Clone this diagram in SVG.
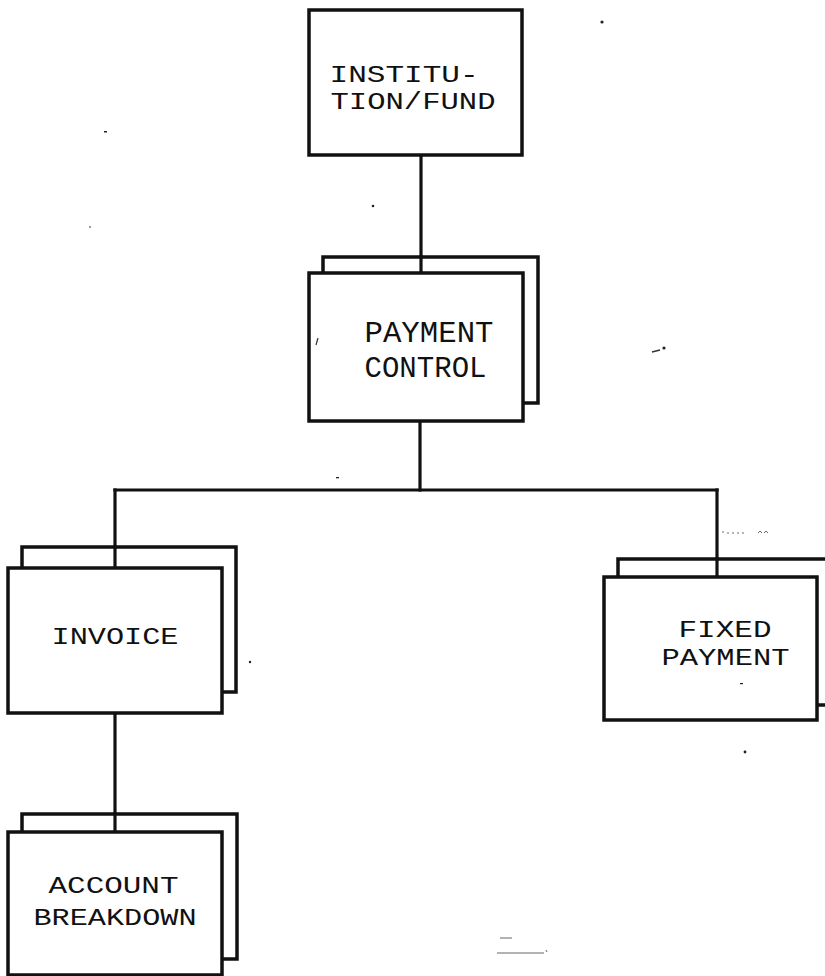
<svg xmlns="http://www.w3.org/2000/svg" width="825" height="976" viewBox="0 0 825 976">
  <style>
    .box { fill: #ffffff; stroke: #111111; stroke-width: 3.5; stroke-linejoin: miter; }
    .wire { fill: none; stroke: #111111; stroke-width: 3.2; stroke-linecap: square; }
    .lbl { font-family: "Courier New", "Liberation Mono", monospace; fill: #111111; }
    .speck { fill: #222222; }
  </style>
  <rect x="0" y="0" width="825" height="976" fill="#ffffff"/>

  <!-- connectors -->
  <g id="connectors">
    <path class="wire" d="M421 155 V273"/>
    <path class="wire" d="M420 421 V490"/>
    <path class="wire" d="M115 490 H717"/>
    <path class="wire" d="M115 490 V568"/>
    <path class="wire" d="M717 490 V577"/>
    <path class="wire" d="M115 713 V832"/>
  </g>

  <!-- single box -->
  <g id="institution-fund">
    <rect class="box" x="309" y="10" width="213" height="145"/>
    <text class="lbl" x="329.5" y="82" font-size="24" textLength="149" lengthAdjust="spacingAndGlyphs">INSTITU-</text>
    <text class="lbl" x="330.5" y="109" font-size="24" textLength="165" lengthAdjust="spacingAndGlyphs">TION/FUND</text>
  </g>

  <!-- stacked boxes: back sheet first, front sheet over it -->
  <g id="payment-control">
    <rect class="box" x="323" y="257" width="215" height="146"/>
    <path class="wire" d="M421 257 V273"/>
    <rect class="box" x="309" y="273" width="214" height="148"/>
    <text class="lbl" x="364.5" y="342" font-size="29" textLength="129" lengthAdjust="spacingAndGlyphs">PAYMENT</text>
    <text class="lbl" x="364.5" y="377" font-size="29" textLength="122" lengthAdjust="spacingAndGlyphs">CONTROL</text>
  </g>

  <g id="invoice">
    <rect class="box" x="22" y="547" width="214" height="145"/>
    <path class="wire" d="M115 547 V568"/>
    <rect class="box" x="8" y="568" width="214" height="145"/>
    <text class="lbl" x="51.5" y="644" font-size="24" textLength="127" lengthAdjust="spacingAndGlyphs">INVOICE</text>
  </g>

  <g id="account-breakdown">
    <rect class="box" x="22" y="814" width="215" height="145"/>
    <path class="wire" d="M115 814 V832"/>
    <rect class="box" x="8" y="832" width="214" height="143"/>
    <text class="lbl" x="48.5" y="893" font-size="24" textLength="130" lengthAdjust="spacingAndGlyphs">ACCOUNT</text>
    <text class="lbl" x="33.5" y="925" font-size="24" textLength="163" lengthAdjust="spacingAndGlyphs">BREAKDOWN</text>
  </g>

  <g id="fixed-payment">
    <rect class="box" x="618" y="559" width="215" height="146"/>
    <path class="wire" d="M717 559 V577"/>
    <rect class="box" x="604" y="577" width="213" height="143"/>
    <text class="lbl" x="678.5" y="637" font-size="24" textLength="93" lengthAdjust="spacingAndGlyphs">FIXED</text>
    <text class="lbl" x="661.5" y="665" font-size="24" textLength="128" lengthAdjust="spacingAndGlyphs">PAYMENT</text>
  </g>

  <!-- stray specks on the sheet -->
  <g id="specks">
    <circle class="speck" cx="602" cy="22" r="1.6"/>
    <rect class="speck" x="104" y="131" width="3" height="1.5"/>
    <circle class="speck" cx="90" cy="227" r="0.8"/>
    <circle class="speck" cx="373" cy="206" r="1.3"/>
    <path d="M318 338 L316 345" stroke="#333" stroke-width="1.2"/>
    <rect class="speck" x="336" y="477" width="3" height="1.3"/>
    <circle class="speck" cx="250" cy="662" r="1.2"/>
    <rect class="speck" x="740" y="683" width="3" height="1.2"/>
    <circle class="speck" cx="745" cy="752" r="1.4"/>
    <path d="M652 352 L660 350" stroke="#333" stroke-width="1.3"/>
    <circle class="speck" cx="664" cy="348" r="1.6"/>
    <g fill="#555">
      <circle cx="723" cy="532" r="0.8"/>
      <circle cx="728" cy="533" r="0.8"/>
      <circle cx="733" cy="533" r="0.8"/>
      <circle cx="738" cy="533" r="0.8"/>
      <circle cx="743" cy="533" r="0.8"/>
      <path d="M758 533 l2 -2 l2 2 M764 533 l2 -2 l2 2" stroke="#555" stroke-width="0.9" fill="none"/>
    </g>
    <g stroke="#666" stroke-width="1" fill="none">
      <path d="M500 938 H512"/>
      <path d="M497 953 H544"/>
      <path d="M546 950 l1 2"/>
    </g>
  </g>
</svg>
